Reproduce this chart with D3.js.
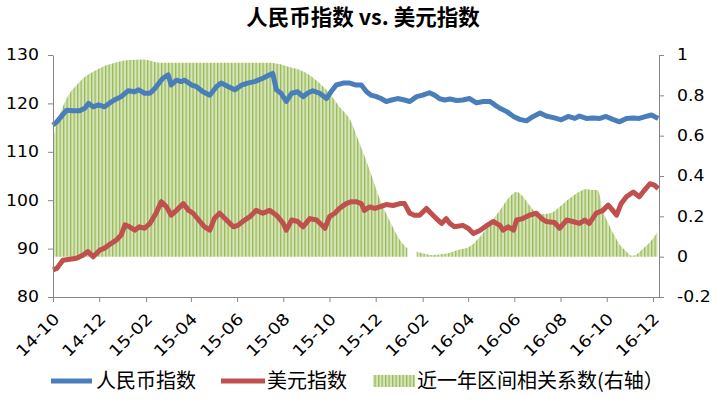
<!DOCTYPE html>
<html><head><meta charset="utf-8">
<script src="https://cdn.jsdelivr.net/npm/d3@7/dist/d3.min.js"></script>
<style>
body{margin:0;background:#fff;}
svg{display:block;}
</style></head>
<body><svg id="chart" width="721" height="414"></svg>
<script>
// ---- data ----
const titleText = "人民币指数 vs. 美元指数";
const seriesNames = ["人民币指数", "美元指数", "近一年区间相关系数(右轴）"];
const leftTicks = [80, 90, 100, 110, 120, 130];
const rightTicks = [-0.2, 0, 0.2, 0.4, 0.6, 0.8, 1];
const xTicks = ["2014-10-01","2014-12-01","2015-02-01","2015-04-01","2015-06-01","2015-08-01","2015-10-01",
  "2015-12-01","2016-02-01","2016-04-01","2016-06-01","2016-08-01","2016-10-01","2016-12-01"];

const cnyIndex = [
["2014-10-01",115.5],["2014-10-06",116.2],["2014-10-12",117.3],["2014-10-19",118.6],["2014-10-27",118.5],
["2014-11-05",118.5],["2014-11-12",119.0],["2014-11-17",120.0],["2014-11-23",119.3],["2014-11-30",119.7],
["2014-12-08",119.3],["2014-12-15",120.1],["2014-12-21",120.7],["2014-12-30",121.4],["2015-01-08",122.6],
["2015-01-17",122.4],["2015-01-22",122.8],["2015-01-30",122.1],["2015-02-06",122.1],["2015-02-12",123.0],
["2015-02-23",125.2],["2015-03-02",125.9],["2015-03-06",123.8],["2015-03-13",124.8],["2015-03-19",124.5],
["2015-03-24",124.8],["2015-04-02",123.8],["2015-04-08",123.5],["2015-04-17",122.4],["2015-04-26",121.7],
["2015-05-05",123.5],["2015-05-11",124.2],["2015-05-20",123.5],["2015-05-29",122.8],["2015-06-07",123.8],
["2015-06-15",124.2],["2015-06-24",124.5],["2015-07-05",125.2],["2015-07-14",125.9],["2015-07-18",126.2],
["2015-07-23",122.8],["2015-07-29",122.1],["2015-08-05",120.4],["2015-08-12",122.1],["2015-08-20",122.4],
["2015-08-27",121.4],["2015-09-03",122.2],["2015-09-09",122.6],["2015-09-18",122.1],["2015-09-27",121.0],
["2015-10-03",122.4],["2015-10-10",123.8],["2015-10-19",124.2],["2015-10-28",124.2],["2015-11-05",123.8],
["2015-11-12",123.8],["2015-11-19",122.4],["2015-11-25",121.7],["2015-12-02",121.4],["2015-12-08",121.0],
["2015-12-15",120.4],["2015-12-22",120.7],["2015-12-30",121.0],["2016-01-08",120.7],["2016-01-15",120.4],
["2016-01-24",121.4],["2016-02-01",121.7],["2016-02-10",122.2],["2016-02-17",121.7],["2016-02-23",121.0],
["2016-03-01",120.7],["2016-03-08",120.9],["2016-03-17",120.6],["2016-03-25",120.7],["2016-04-03",121.0],
["2016-04-12",120.1],["2016-04-21",120.4],["2016-04-30",120.4],["2016-05-06",119.7],["2016-05-13",119.0],
["2016-05-22",118.3],["2016-05-31",117.3],["2016-06-08",116.7],["2016-06-17",116.4],["2016-06-26",117.3],
["2016-07-05",118.0],["2016-07-13",117.4],["2016-07-24",117.0],["2016-08-02",116.6],["2016-08-11",117.3],
["2016-08-20",116.9],["2016-08-26",117.4],["2016-09-04",116.9],["2016-09-13",117.0],["2016-09-22",116.9],
["2016-09-30",117.3],["2016-10-09",116.7],["2016-10-18",116.2],["2016-10-27",116.9],["2016-11-05",117.0],
["2016-11-13",116.9],["2016-11-22",117.3],["2016-11-29",117.6],["2016-12-08",116.9]
];

const usdIndex = [
["2014-10-01",85.6],["2014-10-06",85.9],["2014-10-14",87.6],["2014-10-23",87.8],["2014-11-01",88.0],
["2014-11-10",88.7],["2014-11-16",89.4],["2014-11-23",88.3],["2014-12-02",89.7],["2014-12-08",90.1],
["2014-12-17",91.1],["2014-12-24",91.8],["2014-12-30",92.8],["2015-01-04",94.9],["2015-01-10",94.5],
["2015-01-17",93.8],["2015-01-23",94.5],["2015-01-30",94.2],["2015-02-06",95.2],["2015-02-14",97.3],
["2015-02-21",99.7],["2015-02-28",98.6],["2015-03-06",96.9],["2015-03-13",97.9],["2015-03-22",99.3],
["2015-03-29",97.9],["2015-04-04",97.3],["2015-04-13",95.6],["2015-04-19",94.5],["2015-04-26",93.8],
["2015-05-02",96.2],["2015-05-09",97.3],["2015-05-18",95.9],["2015-05-27",94.5],["2015-06-02",94.8],
["2015-06-11",95.9],["2015-06-18",96.6],["2015-06-26",97.9],["2015-07-05",97.3],["2015-07-14",97.9],
["2015-07-23",96.9],["2015-08-01",95.2],["2015-08-05",93.8],["2015-08-12",95.9],["2015-08-20",95.6],
["2015-08-27",94.5],["2015-09-05",96.2],["2015-09-14",95.9],["2015-09-25",94.2],["2015-10-01",96.6],
["2015-10-08",97.3],["2015-10-14",98.3],["2015-10-23",99.3],["2015-10-30",99.7],["2015-11-05",99.7],
["2015-11-12",99.3],["2015-11-16",97.9],["2015-11-23",98.6],["2015-11-30",98.3],["2015-12-06",98.6],
["2015-12-15",99.1],["2015-12-24",98.9],["2016-01-02",99.3],["2016-01-08",99.3],["2016-01-15",97.3],
["2016-01-21",96.9],["2016-01-28",96.9],["2016-02-06",98.3],["2016-02-12",97.3],["2016-02-19",96.2],
["2016-02-26",95.2],["2016-03-03",96.2],["2016-03-08",95.2],["2016-03-14",94.5],["2016-03-25",94.8],
["2016-04-01",94.2],["2016-04-08",93.1],["2016-04-17",93.8],["2016-04-26",94.8],["2016-05-04",95.6],
["2016-05-13",94.8],["2016-05-17",93.8],["2016-05-24",94.5],["2016-05-31",93.8],["2016-06-04",95.9],
["2016-06-12",96.2],["2016-06-21",96.9],["2016-06-30",97.3],["2016-07-07",96.2],["2016-07-13",95.6],
["2016-07-24",95.4],["2016-07-31",94.2],["2016-08-09",95.9],["2016-08-17",95.6],["2016-08-26",95.2],
["2016-09-02",95.9],["2016-09-08",95.2],["2016-09-17",97.3],["2016-09-26",97.9],["2016-10-03",99.0],
["2016-10-09",97.9],["2016-10-14",96.9],["2016-10-20",99.3],["2016-10-27",100.7],["2016-11-05",101.7],
["2016-11-13",100.7],["2016-11-20",102.1],["2016-11-27",103.4],["2016-12-03",103.1],["2016-12-08",102.4]
];

const correlation = [
["2014-10-01",0.58],["2014-10-06",0.66],["2014-10-14",0.744],["2014-10-23",0.81],["2014-11-01",0.85],
["2014-11-10",0.885],["2014-11-23",0.917],["2014-12-06",0.942],["2014-12-24",0.964],["2015-01-10",0.975],
["2015-01-28",0.978],["2015-02-19",0.962],["2015-03-24",0.962],["2015-05-02",0.962],["2015-06-11",0.962],
["2015-07-14",0.962],["2015-07-27",0.955],["2015-08-09",0.94],["2015-08-23",0.926],["2015-09-05",0.9],
["2015-09-18",0.86],["2015-10-01",0.81],["2015-10-14",0.744],["2015-10-28",0.68],["2015-11-10",0.56],
["2015-11-23",0.43],["2015-12-06",0.29],["2015-12-19",0.182],["2016-01-02",0.083],["2016-01-12",0.04],
["2016-01-18",null],
["2016-01-24",0.025],["2016-02-04",0.015],["2016-02-15",0.008],["2016-02-25",0.012],["2016-03-08",0.02],
["2016-03-21",0.035],["2016-04-03",0.05],["2016-04-17",0.1],["2016-04-30",0.165],["2016-05-13",0.23],
["2016-05-26",0.297],["2016-06-04",0.322],["2016-06-12",0.3],["2016-06-21",0.255],["2016-07-05",0.21],
["2016-07-18",0.215],["2016-07-31",0.248],["2016-08-13",0.29],["2016-08-26",0.322],["2016-09-04",0.335],
["2016-09-12",0.33],["2016-09-19",0.33],["2016-09-26",0.23],["2016-10-05",0.15],["2016-10-12",0.1],
["2016-10-18",0.06],["2016-10-25",0.033],["2016-11-03",0.005],["2016-11-09",0.01],["2016-11-16",0.033],
["2016-11-24",0.06],["2016-12-01",0.09],["2016-12-07",0.124]
];

// ---- drawing ----
const parse = d3.timeParse("%Y-%m-%d");
const svg = d3.select("#chart");
const plotL = 53, plotR = 659, plotT = 55, plotB = 297;
const numFont = "'DejaVu Sans', sans-serif";
const cjkFont = "'Noto Sans CJK SC', sans-serif";
const sx = 1.15;

const x = d3.scaleTime().domain([parse("2014-10-01"), parse("2016-12-09")]).range([plotL, plotR]);
const yL = d3.scaleLinear().domain([80, 130]).range([plotB, plotT]);
const yR = d3.scaleLinear().domain([-0.2, 1]).range([plotB, plotT]);

const defs = svg.append("defs");
const pat = defs.append("pattern").attr("id", "stripes").attr("patternUnits", "userSpaceOnUse")
  .attr("width", 3.5).attr("height", 10);
pat.append("rect").attr("width", 3.5).attr("height", 10).attr("fill", "#D6E4BA");
pat.append("rect").attr("width", 1.3).attr("height", 10).attr("fill", "#98B955");

// correlation (right axis) as stripe-filled columns
const corrData = correlation.map(d => ({date: parse(d[0]), v: d[1]}));
const area = d3.area()
  .defined(d => d.v !== null)
  .x(d => x(d.date)).y0(yR(0)).y1(d => yR(d.v))
  .curve(d3.curveMonotoneX);
svg.append("path").datum(corrData).attr("d", area).attr("fill", "url(#stripes)");

// lines
const lineL = d3.line().x(d => x(d.date)).y(d => yL(d.v));
const cny = cnyIndex.map(d => ({date: parse(d[0]), v: d[1]}));
const usd = usdIndex.map(d => ({date: parse(d[0]), v: d[1]}));
svg.append("path").datum(cny).attr("d", lineL).attr("fill", "none")
  .attr("stroke", "#4A7EBB").attr("stroke-width", 5).attr("stroke-linejoin", "round");
svg.append("path").datum(usd).attr("d", lineL).attr("fill", "none")
  .attr("stroke", "#C0504D").attr("stroke-width", 5).attr("stroke-linejoin", "round");

// axes
const axisColor = "#868686";
function styleAxis(g) {
  g.select(".domain").attr("stroke", axisColor).attr("stroke-width", 1);
  g.selectAll(".tick line").attr("stroke", axisColor);
  g.selectAll("text").attr("fill", "#000").style("font-family", numFont).style("font-size", "15px");
}
const gL = svg.append("g").attr("transform", `translate(${plotL},0)`)
  .call(d3.axisLeft(yL).tickValues(leftTicks).tickSize(5).tickSizeOuter(0).tickFormat(d => String(d)));
styleAxis(gL);
gL.selectAll(".tick text").attr("x", -14 / sx).attr("transform", `scale(${sx},1)`);

const gR = svg.append("g").attr("transform", `translate(${plotR},0)`)
  .call(d3.axisRight(yR).tickValues(rightTicks).tickSize(5).tickSizeOuter(0).tickFormat(d => String(d)));
styleAxis(gR);
gR.selectAll(".tick text").attr("x", 18 / sx).attr("transform", `scale(${sx},1)`);

const gB = svg.append("g").attr("transform", `translate(0,${plotB})`)
  .call(d3.axisBottom(x).tickValues(xTicks.map(parse)).tickSize(5).tickSizeOuter(0).tickFormat(d3.timeFormat("%y-%m")));
styleAxis(gB);
gB.selectAll(".tick text").attr("x", 0).attr("y", 0).attr("dy", "0.35em")
  .attr("text-anchor", "end").style("font-size", "16px")
  .attr("transform", `translate(3,19) rotate(-45) scale(${sx},1)`);

// title
svg.append("text").attr("x", 363).attr("y", 25).attr("text-anchor", "middle")
  .style("font-family", cjkFont).style("font-size", "21.5px").style("font-weight", "bold")
  .attr("fill", "#000").text(titleText);

// legend
const ly = 381;
const leg = svg.append("g");
leg.append("line").attr("x1", 51).attr("x2", 92).attr("y1", ly).attr("y2", ly)
  .attr("stroke", "#4A7EBB").attr("stroke-width", 5);
leg.append("text").attr("x", 96).attr("y", ly).attr("dy", "0.36em").text(seriesNames[0]);
leg.append("line").attr("x1", 221).attr("x2", 265).attr("y1", ly).attr("y2", ly)
  .attr("stroke", "#C0504D").attr("stroke-width", 5);
leg.append("text").attr("x", 267).attr("y", ly).attr("dy", "0.36em").text(seriesNames[1]);
leg.append("rect").attr("x", 373).attr("y", ly - 6).attr("width", 42).attr("height", 12)
  .attr("fill", "url(#stripes)");
leg.append("text").attr("x", 417).attr("y", ly).attr("dy", "0.36em").text(seriesNames[2]);
leg.selectAll("text").style("font-family", cjkFont).style("font-size", "20px").attr("fill", "#000");
</script>
</body></html>
